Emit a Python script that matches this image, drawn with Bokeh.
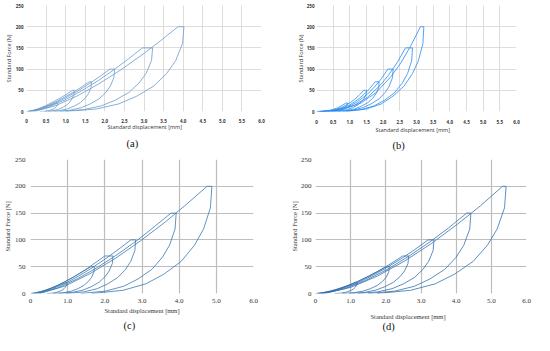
from bokeh.plotting import figure
from bokeh.layouts import column, row
from bokeh.models import Range1d, FixedTicker, Title
from bokeh.embed import file_html
from bokeh.resources import INLINE

# ---------------- data (displacement mm, force N) ----------------
x_ticks_ab = [0, 0.5, 1.0, 1.5, 2.0, 2.5, 3.0, 3.5, 4.0, 4.5, 5.0, 5.5, 6.0]
x_labels_ab = ["0", "0.5", "1.0", "1.5", "2.0", "2.5", "3.0", "3.5", "4.0", "4.5", "5.0", "5.5", "6.0"]
x_ticks_cd = [0, 1.0, 2.0, 3.0, 4.0, 5.0, 6.0]
x_labels_cd = ["0", "1.0", "2.0", "3.0", "4.0", "5.0", "6.0"]
y_ticks = [0, 50, 100, 150, 200, 250]

# panel (a)
a20_x = [0, 0.11, 0.23, 0.34, 0.45, 0.56, 0.66, 0.75, 0.8, 0.795, 0.77, 0.735, 0.685, 0.62, 0.553, 0.467, 0.35]
a20_f = [0, 1.4, 3.7, 6.5, 9.8, 13.4, 16.6, 20, 20, 16, 12, 9, 6, 3.6, 1.8, 0.6, 0]
a50_x = [0.03, 0.2, 0.38, 0.55, 0.72, 0.89, 1.04, 1.18, 1.22, 1.211, 1.166, 1.108, 1.024, 0.912, 0.797, 0.65, 0.45]
a50_f = [0, 3.5, 9.3, 16.4, 24.5, 33.4, 41.5, 50, 50, 40, 30, 22.5, 15, 9, 4.5, 1.5, 0]
a70_x = [0.06, 0.29, 0.52, 0.75, 0.98, 1.22, 1.41, 1.6, 1.66, 1.647, 1.582, 1.499, 1.377, 1.216, 1.05, 0.839, 0.55]
a70_f = [0, 4.9, 13, 22.9, 34.2, 46.8, 58.1, 70, 70, 56, 42, 31.5, 21, 12.6, 6.3, 2.1, 0]
a100_x = [0.1, 0.4, 0.71, 1.01, 1.32, 1.62, 1.88, 2.13, 2.25, 2.231, 2.142, 2.025, 1.855, 1.63, 1.398, 1.103, 0.7]
a100_f = [0, 7, 18.5, 32.7, 48.9, 66.8, 83, 100, 100, 80, 60, 45, 30, 18, 9, 3, 0]
a150_x = [0.15, 0.57, 0.99, 1.41, 1.84, 2.26, 2.61, 2.96, 3.22, 3.192, 3.054, 2.876, 2.616, 2.272, 1.917, 1.466, 0.85]
a150_f = [0, 10.5, 27.8, 49, 73.4, 100.2, 124.5, 150, 150, 120, 90, 67.5, 45, 27, 13.5, 4.5, 0]
a200_x = [0.2, 0.75, 1.3, 1.85, 2.4, 2.95, 3.41, 3.87, 4.02, 3.984, 3.809, 3.582, 3.25, 2.812, 2.359, 1.785, 1.0]
a200_f = [0, 14, 37, 65.4, 97.8, 133.6, 166, 200, 200, 160, 120, 90, 60, 36, 18, 6, 0]

# panel (b)
b20_x = [0, 0.18, 0.35, 0.48, 0.62, 0.7, 0.79, 0.88, 0.93, 0.923, 0.889, 0.846, 0.782, 0.698, 0.611, 0.501, 0.35]
b20_f = [0, 0.4, 2, 4.5, 8.2, 11.4, 15.4, 20, 20, 16, 12, 9, 6, 3.6, 1.8, 0.6, 0]
b50_x = [0.03, 0.31, 0.59, 0.79, 1.0, 1.14, 1.28, 1.42, 1.5, 1.487, 1.427, 1.348, 1.232, 1.08, 0.923, 0.723, 0.45]
b50_f = [0, 0.9, 5, 11.2, 20.5, 28.6, 38.4, 50, 50, 40, 30, 22.5, 15, 9, 4.5, 1.5, 0]
b70_x = [0.06, 0.4, 0.74, 1.0, 1.25, 1.42, 1.59, 1.76, 1.88, 1.864, 1.787, 1.687, 1.541, 1.348, 1.149, 0.896, 0.55]
b70_f = [0, 1.3, 7.1, 15.7, 28.7, 40, 53.8, 70, 70, 56, 42, 31.5, 21, 12.6, 6.3, 2.1, 0]
b100_x = [0.1, 0.51, 0.92, 1.22, 1.53, 1.73, 1.94, 2.14, 2.3, 2.28, 2.185, 2.061, 1.879, 1.64, 1.393, 1.079, 0.65]
b100_f = [0, 1.8, 10.1, 22.4, 41, 57.2, 76.8, 100, 100, 80, 60, 45, 30, 18, 9, 3, 0]
b150_x = [0.13, 0.64, 1.15, 1.53, 1.91, 2.16, 2.42, 2.67, 2.88, 2.855, 2.734, 2.578, 2.35, 2.048, 1.736, 1.341, 0.8]
b150_f = [0, 2.7, 15.2, 33.6, 61.5, 85.8, 115.2, 150, 150, 120, 90, 67.5, 45, 27, 13.5, 4.5, 0]
b200_x = [0.16, 0.75, 1.34, 1.79, 2.23, 2.53, 2.82, 3.12, 3.22, 3.192, 3.058, 2.884, 2.628, 2.292, 1.944, 1.503, 0.9]
b200_f = [0, 3.6, 20.2, 44.8, 82, 114.4, 153.6, 200, 200, 160, 120, 90, 60, 36, 18, 6, 0]

# panel (c)
c20_x = [0, 0.14, 0.28, 0.42, 0.56, 0.7, 0.81, 0.93, 0.98, 0.974, 0.943, 0.903, 0.845, 0.768, 0.689, 0.588, 0.45]
c20_f = [0, 1.4, 3.7, 6.5, 9.8, 13.4, 16.6, 20, 20, 16, 12, 9, 6, 3.6, 1.8, 0.6, 0]
c50_x = [0.05, 0.29, 0.52, 0.76, 0.99, 1.23, 1.42, 1.62, 1.72, 1.707, 1.642, 1.558, 1.434, 1.272, 1.104, 0.891, 0.6]
c50_f = [0, 3.5, 9.3, 16.4, 24.5, 33.4, 41.5, 50, 50, 40, 30, 22.5, 15, 9, 4.5, 1.5, 0]
c70_x = [0.1, 0.39, 0.67, 0.96, 1.24, 1.53, 1.76, 2.0, 2.22, 2.202, 2.117, 2.007, 1.845, 1.632, 1.412, 1.132, 0.75]
c70_f = [0, 4.9, 13, 22.9, 34.2, 46.8, 58.1, 70, 70, 56, 42, 31.5, 21, 12.6, 6.3, 2.1, 0]
c100_x = [0.15, 0.53, 0.92, 1.3, 1.68, 2.06, 2.38, 2.7, 2.83, 2.807, 2.698, 2.557, 2.351, 2.078, 1.796, 1.439, 0.95]
c100_f = [0, 7, 18.5, 32.7, 48.9, 66.8, 83, 100, 100, 80, 60, 45, 30, 18, 9, 3, 0]
c150_x = [0.2, 0.74, 1.27, 1.81, 2.35, 2.89, 3.33, 3.78, 3.92, 3.889, 3.74, 3.547, 3.265, 2.892, 2.507, 2.018, 1.35]
c150_f = [0, 10.5, 27.8, 49, 73.4, 100.2, 124.5, 150, 150, 120, 90, 67.5, 45, 27, 13.5, 4.5, 0]
c200_x = [0.25, 0.93, 1.6, 2.28, 2.95, 3.63, 4.19, 4.75, 4.88, 4.841, 4.654, 4.412, 4.056, 3.588, 3.104, 2.49, 1.65]
c200_f = [0, 14, 37, 65.4, 97.8, 133.6, 166, 200, 200, 160, 120, 90, 60, 36, 18, 6, 0]

# panel (d)
d20_x = [0, 0.17, 0.34, 0.5, 0.67, 0.84, 0.98, 1.12, 1.18, 1.172, 1.136, 1.089, 1.019, 0.928, 0.834, 0.714, 0.55]
d20_f = [0, 1.2, 3.3, 6, 9.3, 13, 16.4, 20, 20, 16, 12, 9, 6, 3.6, 1.8, 0.6, 0]
d50_x = [0.05, 0.34, 0.64, 0.93, 1.22, 1.51, 1.76, 2.0, 2.1, 2.084, 2.006, 1.904, 1.756, 1.56, 1.358, 1.101, 0.75]
d50_f = [0, 2.9, 8.2, 15.1, 23.3, 32.5, 40.9, 50, 50, 40, 30, 22.5, 15, 9, 4.5, 1.5, 0]
d70_x = [0.1, 0.46, 0.81, 1.17, 1.53, 1.89, 2.18, 2.48, 2.65, 2.63, 2.531, 2.404, 2.217, 1.97, 1.715, 1.392, 0.95]
d70_f = [0, 4.1, 11.5, 21.1, 32.6, 45.5, 57.3, 70, 70, 56, 42, 31.5, 21, 12.6, 6.3, 2.1, 0]
d100_x = [0.15, 0.61, 1.07, 1.52, 1.98, 2.44, 2.82, 3.2, 3.37, 3.344, 3.218, 3.055, 2.817, 2.502, 2.177, 1.764, 1.2]
d100_f = [0, 5.8, 16.4, 30.2, 46.5, 65, 81.8, 100, 100, 80, 60, 45, 30, 18, 9, 3, 0]
d150_x = [0.2, 0.82, 1.43, 2.05, 2.66, 3.28, 3.79, 4.3, 4.42, 4.385, 4.216, 3.997, 3.675, 3.252, 2.814, 2.259, 1.5]
d150_f = [0, 8.7, 24.6, 45.3, 69.8, 97.5, 122.7, 150, 150, 120, 90, 67.5, 45, 27, 13.5, 4.5, 0]
d200_x = [0.25, 1.01, 1.77, 2.53, 3.29, 4.05, 4.69, 5.32, 5.42, 5.376, 5.163, 4.888, 4.484, 3.952, 3.402, 2.704, 1.75]
d200_f = [0, 11.6, 32.8, 60.4, 93, 130, 163.6, 200, 200, 160, 120, 90, 60, 36, 18, 6, 0]


def panel(loops, color, w, h, mbl, mbr, mbt, mbb, xticks, xlabels, font, tick_px, tick_style,
          title_px, ylab, ylab_standoff, ylbl_standoff, xlbl_standoff, grid_color, grid_w,
          xt_offset, xt_standoff, gap, cap, cap_offset, cap_standoff):
    p = figure(width=w, height=h, x_range=Range1d(0, 6), y_range=Range1d(0, 250),
               output_backend="svg", toolbar_location=None,
               min_border_left=mbl, min_border_right=mbr, min_border_top=mbt,
               min_border_bottom=mbb)
    p.outline_line_color = None
    p.background_fill_color = "white"
    p.border_fill_color = "white"
    for xs, fs in loops:
        p.line(xs, fs, line_color=color, line_width=0.8)
    p.xaxis.ticker = FixedTicker(ticks=xticks)
    p.xaxis.major_label_overrides = {t: l for t, l in zip(xticks, xlabels)}
    p.yaxis.ticker = FixedTicker(ticks=y_ticks)
    p.xgrid.ticker = FixedTicker(ticks=xticks[1:])
    p.ygrid.ticker = FixedTicker(ticks=y_ticks[1:])
    for g in (p.xgrid[0], p.ygrid[0]):
        g.grid_line_color = grid_color
        g.grid_line_width = grid_w
    for ax in (p.xaxis[0], p.yaxis[0]):
        ax.axis_line_color = None
        ax.major_tick_line_color = None
        ax.minor_tick_line_color = None
        ax.major_tick_out = 0
        ax.major_tick_in = 0
        ax.major_label_text_font = font
        ax.major_label_text_font_size = tick_px
        ax.major_label_text_font_style = tick_style
        ax.major_label_text_color = "#333333"
    p.yaxis.major_label_standoff = ylbl_standoff
    p.xaxis.major_label_standoff = xlbl_standoff
    p.yaxis.axis_label = ylab
    p.yaxis.axis_label_text_font = font
    p.yaxis.axis_label_text_font_size = title_px
    p.yaxis.axis_label_text_font_style = "normal"
    p.yaxis.axis_label_text_color = "#333333"
    p.yaxis.axis_label_standoff = ylab_standoff
    p.add_layout(Title(text="Standard displacement [mm]", align="left", offset=xt_offset,
                       standoff=xt_standoff, text_font=font, text_font_size=title_px,
                       text_font_style="normal", text_color="#333333"), "below")
    if gap is not None:
        p.add_layout(Title(text=" ", standoff=gap, text_font_size="1px"), "below")
    p.add_layout(Title(text=cap, align="left", offset=cap_offset, standoff=cap_standoff,
                       text_font="Liberation Serif", text_font_size="10.5px",
                       text_font_style="normal", text_color="#111111"), "below")
    return p


pa = panel([(a20_x, a20_f), (a50_x, a50_f), (a70_x, a70_f), (a100_x, a100_f),
            (a150_x, a150_f), (a200_x, a200_f)], "#6a9ccc",
           291, 153, 26, 30, 4, 40, x_ticks_ab, x_labels_ab, "Open Sans", "4.5px", "bold",
           "5.5px", "Standard Force (N)", 0, 3, 7, "#d4d4d4", 0.8,
           81, -9, 6, "(a)", 100, 0)
pb = panel([(b20_x, b20_f), (b50_x, b50_f), (b70_x, b70_f), (b100_x, b100_f),
            (b150_x, b150_f), (b200_x, b200_f)], "#2b8cf0",
           243, 153, 25, 18, 5, 42, x_ticks_ab, x_labels_ab, "Open Sans", "4.5px", "bold",
           "5.5px", "Standard Force (N)", -1, 2, 8, "#d4d4d4", 0.8,
           59, -5, 3, "(b)", 76, 0)
pc = panel([(c20_x, c20_f), (c50_x, c50_f), (c70_x, c70_f), (c100_x, c100_f),
            (c150_x, c150_f), (c200_x, c200_f)], "#3b78b0",
           281, 182, 30, 28, 5, 42, x_ticks_cd, x_labels_cd, "Liberation Serif", "7px", "normal",
           "6.5px", "Standard Force [N]", 1, 5, 5, "#bdbdbd", 1.2,
           74, -2, 2, "(c)", 93, 0)
pd = panel([(d20_x, d20_f), (d50_x, d50_f), (d70_x, d70_f), (d100_x, d100_f),
            (d150_x, d150_f), (d200_x, d200_f)], "#3572ad",
           253, 182, 34, 8, 6, 41, x_ticks_cd, x_labels_cd, "Liberation Serif", "7px", "normal",
           "6.5px", "Standard Force [N]", 0, 4, 5, "#bdbdbd", 1.2,
           55, 10, None, "(d)", 67, -14)

layout = column(row(pa, pb), row(pc, pd))
open("out.html", "w").write(file_html(layout, INLINE))
